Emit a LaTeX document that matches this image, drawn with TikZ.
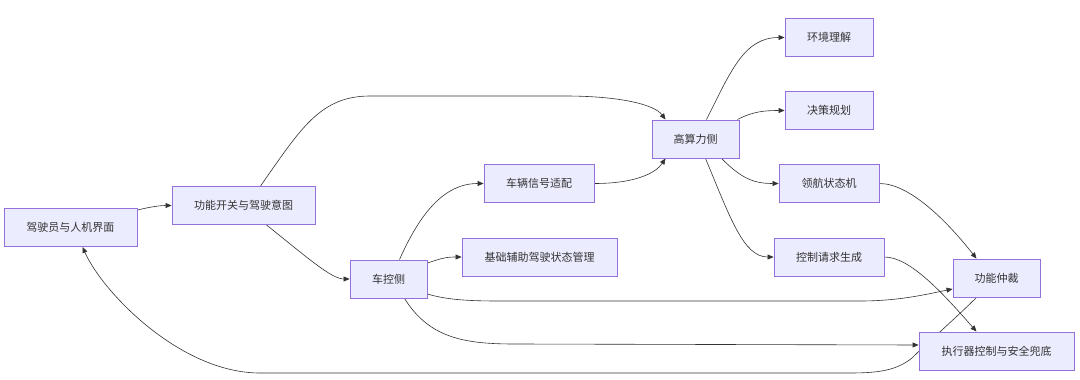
\documentclass[tikz,border=0pt]{standalone}
\usepackage{fontspec}
\setmainfont{Noto Sans CJK SC}
\usetikzlibrary{arrows.meta,backgrounds}
\definecolor{boxfill}{HTML}{ECECFF}
\definecolor{boxline}{HTML}{9370DB}
\definecolor{ink}{HTML}{333333}
\begin{document}
\begin{tikzpicture}[x=1pt,y=-1pt,
  box/.style={draw=boxline,fill=boxfill,line width=0.9pt,minimum height=38pt,inner sep=0pt,text=ink,font=\fontsize{11}{13}\selectfont},
  link/.style={draw=ink,line width=0.6pt,-{Triangle[length=6pt,width=5pt]}}]
\useasboundingbox (0,0) rectangle (1080,380);
\node[box,minimum width=133pt] (n1) at (70.5,227.5) {驾驶员与人机界面};
\node[box,minimum width=143pt] (n2) at (243.5,205.5) {功能开关与驾驶意图};
\node[box,minimum width=77pt] (n3) at (388.5,279) {车控侧};
\node[box,minimum width=110pt] (n4) at (539,183.5) {车辆信号适配};
\node[box,minimum width=155pt] (n5) at (539.5,257) {基础辅助驾驶状态管理};
\node[box,minimum width=87pt] (n6) at (695.5,139) {高算力侧};
\node[box,minimum width=88pt] (n7) at (829,37.5) {环境理解};
\node[box,minimum width=88pt] (n8) at (829,110.5) {决策规划};
\node[box,minimum width=100pt] (n9) at (829,183.5) {领航状态机};
\node[box,minimum width=110pt] (n10) at (829,257) {控制请求生成};
\node[box,minimum width=87pt] (n11) at (996.5,278) {功能仲裁};
\node[box,minimum width=155pt] (n12) at (996.5,351) {执行器控制与安全兜底};
\begin{pgfonlayer}{background}
\fill[white] (0,0) rectangle (1080,380);
\draw[link] ([yshift=-2pt]n1.north east) .. controls +(12,-3) and +(-12,0) .. (n2.west);
\draw[link] ([xshift=17pt]n2.north) .. controls +(40,-57) and +(-50,0) .. (370,96) -- (565,96) .. controls +(55,0) and +(-11,-15) .. ([xshift=-30pt]n6.north);
\draw[link] ([xshift=23pt]n2.south) .. controls +(40,32) and +(-18,0) .. (n3.west);
\draw[link] ([xshift=11pt]n3.north) .. controls +(20,-45) and +(-40,0) .. (n4.west);
\draw[link] ([yshift=16pt]n3.east) .. controls +(15,-5) and +(-15,0) .. (n5.west);
\draw[link] ([yshift=-15pt]n3.east) .. controls +(20,6) and +(-30,0) .. (500,301) -- (860,301) .. controls +(40,0) and +(-25,5) .. ([yshift=-11pt]n11.west);
\draw[link] ([xshift=16pt]n3.south) .. controls +(25,40) and +(-50,0) .. (515,344) -- ([yshift=6pt]n12.west);
\draw[link] (n4.east) .. controls +(40,0) and +(-10,15) .. ([xshift=-30pt]n6.south);
\draw[link] ([xshift=11pt]n6.north) .. controls +(25,-50) and +(-40,0) .. (n7.west);
\draw[link] ([xshift=-2pt]n6.north east) .. controls +(15,-8) and +(-20,0) .. (n8.west);
\draw[link] ([xshift=26pt]n6.south) .. controls +(20,20) and +(-25,0) .. (n9.west);
\draw[link] ([xshift=10pt]n6.south) .. controls +(25,60) and +(-30,0) .. (n10.west);
\draw[link] (n9.east) .. controls +(30,0) and +(-30,-38) .. ([xshift=-20pt]n11.north);
\draw[link] (n10.east) .. controls +(25,0) and +(-35,-40) .. ([xshift=-20pt]n12.north);
\draw[link] ([xshift=-20pt]n11.south) .. controls +(-20,20) and +(15,-15) .. (912,358) .. controls +(-15,12) and +(30,0) .. (850,373) -- (260,373) .. controls +(-80,0) and +(20,45) .. ([xshift=12pt]n1.south);
\end{pgfonlayer}
\end{tikzpicture}
\end{document}
